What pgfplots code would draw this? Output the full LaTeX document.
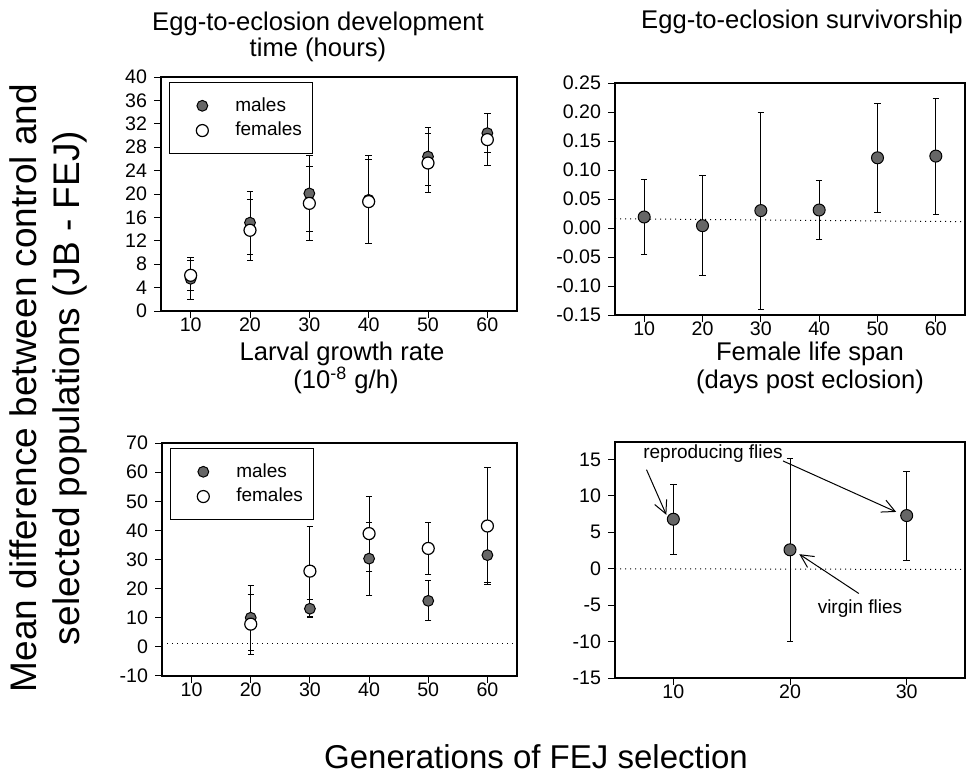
\documentclass[border=0pt]{standalone}
\usepackage{fontspec}
\setmainfont{Liberation Sans}
\usepackage{pgfplots}
\pgfplotsset{compat=1.18}
\usetikzlibrary{arrows.meta}

\pgfplotsset{
  panel/.style={
    scale only axis, anchor=north west,
    axis line style={line width=0.6pt},
    tick align=outside, major tick length=3.5pt,
    tick style={black, line width=0.5pt},
    xtick pos=bottom, ytick pos=left,
    /pgf/number format/assume math mode=true,
    tick label style={font=\fontsize{9.8}{11}\selectfont},
    xticklabel style={yshift=3.5pt},
  },
  err/.style={error bars/.cd, y dir=both, y explicit,
    error bar style={line width=0.5pt, black},
    error mark options={rotate=90, mark size=1.6pt, line width=0.5pt, black}},
  male/.style={only marks, mark=*, mark size=2.7pt,
    mark options={fill=black!60, draw=black, line width=0.5pt}},
  female/.style={only marks, mark=*, mark size=3pt,
    mark options={fill=white, draw=black, line width=0.6pt}},
  mylegend/.style={
    legend image code/.code={\path[draw=none, fill=none] (0pt,0pt) -- (27.5pt,0pt);
      \draw[##1, draw=none] plot coordinates {(13pt,0pt)};},
    legend style={at={(0.022,0.979)}, anchor=north west, draw=black,
      line width=0.5pt, inner xsep=3.5pt, inner ysep=5.5pt,
      font=\fontsize{9.5}{11}\selectfont, cells={anchor=west}}},
}

\begin{document}
\begin{tikzpicture}
\useasboundingbox (0,0) rectangle (484pt,-391pt);

% titles
\node[anchor=base, font=\fontsize{12.8}{15}\selectfont] at (159pt,-15pt) {Egg-to-eclosion development};
\node[anchor=base, font=\fontsize{12.8}{15}\selectfont] at (159pt,-28pt) {time (hours)};
\node[anchor=base, font=\fontsize{12.8}{15}\selectfont] at (401pt,-14pt) {Egg-to-eclosion survivorship};
\node[anchor=base, font=\fontsize{12.8}{15}\selectfont] at (171pt,-180pt) {Larval growth rate};
\node[anchor=base, font=\fontsize{12.8}{15}\selectfont] at (173pt,-194pt) {(10\textsuperscript{-8} g/h)};
\node[anchor=base, font=\fontsize{12.8}{15}\selectfont] at (405pt,-180pt) {Female life span};
\node[anchor=base, font=\fontsize{12.8}{15}\selectfont] at (405pt,-194pt) {(days post eclosion)};

% shared labels
\node[anchor=base, rotate=90, font=\fontsize{18.5}{22}\selectfont] at (18pt,-194pt) {Mean difference between control and};
\node[anchor=base, rotate=90, font=\fontsize{18.5}{22}\selectfont] at (39.5pt,-194pt) {selected populations (JB - FEJ)};
\node[anchor=base, font=\fontsize{16.5}{20}\selectfont] at (268pt,-384pt) {Generations of FEJ selection};

% development time
\begin{axis}[panel, mylegend, at={(80.5pt,-38.5pt)}, width=178pt, height=117pt,
  xmin=5, xmax=65, ymin=0, ymax=40,
  xtick={10,20,...,60}, ytick={0,4,...,40}]
\addplot[male, err] coordinates {
 (10,5.5) +- (0,3.6) (20,15.1) +- (0,5.4) (30,20.1) +- (0,6.5)
 (40,19.0) +- (0,7.5) (50,26.4) +- (0,4.9) (60,30.4) +- (0,3.3)};
\addplot[female, err] coordinates {
 (10,6.1) +- (0,2.6) (20,13.8) +- (0,5.2) (30,18.4) +- (0,6.3)
 (40,18.7) +- (0,7.2) (50,25.3) +- (0,5.0) (60,29.3) +- (0,4.5)};
\legend{males, females}
\end{axis}

% survivorship
\begin{axis}[panel, at={(307.5pt,-41.5pt)}, width=175pt, height=116pt,
  xmin=5, xmax=65, ymin=-0.15, ymax=0.25,
  xtick={10,20,...,60}, ytick={-0.15,-0.10,...,0.26},
  yticklabel style={/pgf/number format/.cd, fixed, fixed zerofill, precision=2}]
\addplot[black, dotted, line width=0.5pt] coordinates {(5,0.016) (65,0.011)};
\addplot[male, mark size=3pt, err] coordinates {
 (10,0.019) +- (0,0.064) (20,0.004) +- (0,0.086) (30,0.030) +- (0,0.170)
 (40,0.031) +- (0,0.051) (50,0.121) +- (0,0.094) (60,0.124) +- (0,0.100)};
\end{axis}

% larval growth rate
\begin{axis}[panel, mylegend, at={(81pt,-221.5pt)}, width=177.5pt, height=116.5pt,
  xmin=5, xmax=65, ymin=-10, ymax=70,
  xtick={10,20,...,60}, ytick={-10,0,...,70}]
\addplot[black, dotted, line width=0.5pt, forget plot] coordinates {(5,1) (65,1)};
\addplot[male, err] coordinates {
 (20,10.0) +- (0,11.2) (30,13.1) +- (0,3.0) (40,30.3) +- (0,12.5)
 (50,15.8) +- (0,6.9) (60,31.5) +- (0,9.5)};
\addplot[female, err] coordinates {
 (20,7.8) +- (0,10.3) (30,26.0) +- (0,15.4) (40,38.9) +- (0,12.9)
 (50,33.8) +- (0,8.9) (60,41.5) +- (0,20.0)};
\legend{males, females}
\end{axis}

% female life span
\begin{axis}[panel, at={(307.5pt,-221pt)}, width=175pt, height=118pt, clip=false,
  xmin=5, xmax=35, ymin=-15, ymax=17.4,
  xtick={10,20,30}, ytick={-15,-10,...,15}]
\addplot[black, dotted, line width=0.5pt] coordinates {(5,0) (35,-0.1)};
\addplot[male, mark size=3pt, err] coordinates {
 (10,6.8) +- (0,4.8) (20,2.6) +- (0,12.6) (30,7.3) +- (0,6.1)};
\node[font=\fontsize{9.5}{11}\selectfont] at (axis cs:13.4,15.8) {reproducing flies};
\node[font=\fontsize{9.5}{11}\selectfont] at (axis cs:26,-5.45) {virgin flies};
\draw[-{Straight Barb[length=6.5pt,width=6.5pt]}, line width=0.5pt] (axis cs:7.7,13.6) -- (axis cs:9.4,7.4);
\draw[-{Straight Barb[length=6.5pt,width=6.5pt]}, line width=0.5pt] (axis cs:19.4,14.8) -- (axis cs:29.1,7.8);
\draw[-{Straight Barb[length=6.5pt,width=6.5pt]}, line width=0.5pt] (axis cs:25.9,-3.4) -- (axis cs:20.8,2.0);
\end{axis}
\end{tikzpicture}
\end{document}
